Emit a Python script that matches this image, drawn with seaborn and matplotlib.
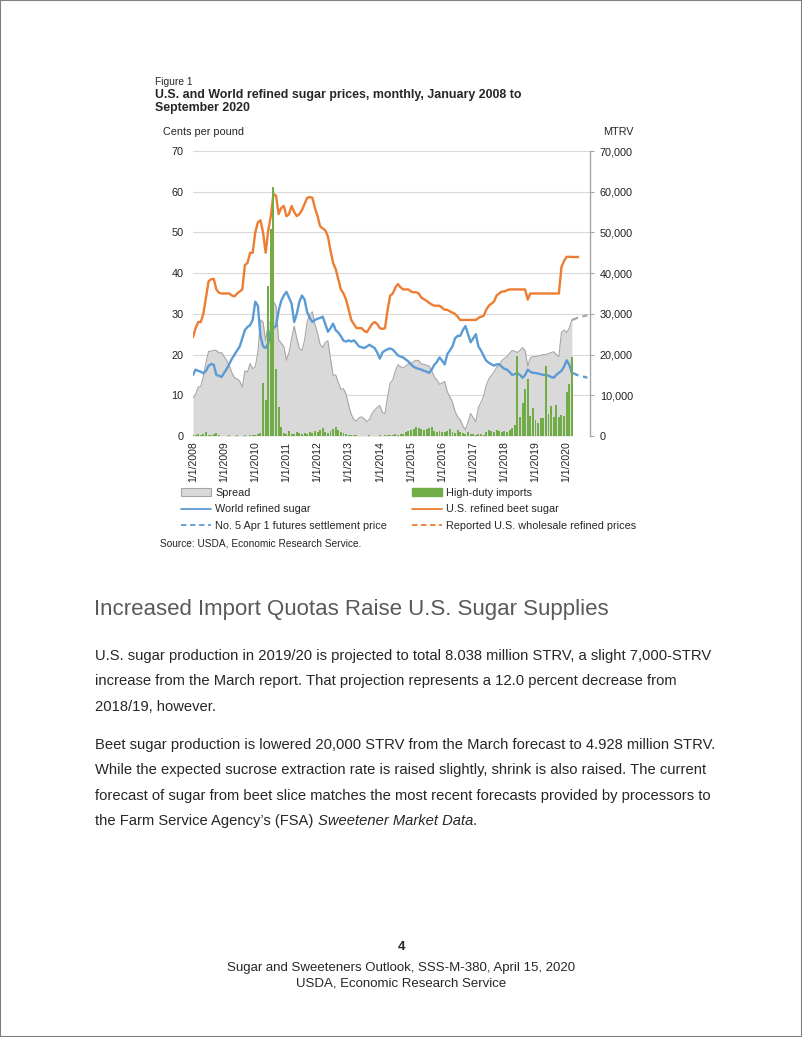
import numpy as np
import pandas as pd
import matplotlib
matplotlib.use("Agg")
import matplotlib.pyplot as plt
import seaborn as sns
from matplotlib.patches import Patch, Rectangle
from matplotlib.lines import Line2D
from matplotlib.ticker import FuncFormatter

# monthly data, Jan 2008 .. Mar 2020 (cents per pound)
beet_sugar = [
    24.3, 26.5, 28.0, 28.0, 30.0, 34.0, 38.0, 38.5, 38.6, 36.0, 35.2, 35.0,
    35.0, 35.0, 35.0, 34.5, 34.3, 35.0, 35.5, 36.0, 42.0, 42.5, 45.0, 45.0,
    50.0, 52.5, 53.0, 50.0, 45.0, 50.5, 54.0, 59.5, 59.0, 54.5, 56.0, 56.5,
    54.0, 54.5, 56.5, 55.0, 54.0, 54.5, 55.5, 57.0, 58.5, 58.7, 58.5, 56.0,
    54.0, 51.5, 51.0, 50.5, 49.0, 45.5, 42.5, 41.0, 38.5, 36.0, 35.0, 33.5,
    31.0, 28.5, 27.5, 26.5, 26.5, 26.5, 25.8, 25.5, 26.5, 27.5, 28.0, 27.5,
    26.5, 26.3, 26.5, 31.0, 34.5, 35.0, 36.5, 37.3, 36.5, 36.0, 36.0, 36.0,
    35.5, 35.3, 35.3, 35.0, 34.0, 33.6, 33.2, 32.7, 32.3, 32.0, 32.0, 32.0,
    31.5, 31.0, 31.0, 30.6, 30.3, 30.0, 29.3, 28.5, 28.5, 28.5, 28.5, 28.5,
    28.5, 28.5, 29.0, 29.3, 29.5, 31.0, 32.0, 32.5, 33.0, 34.5, 35.0, 35.5,
    35.5, 35.8, 36.0, 36.0, 36.0, 36.0, 36.0, 36.0, 36.0, 33.5, 35.0, 35.0,
    35.0, 35.0, 35.0, 35.0, 35.0, 35.0, 35.0, 35.0, 35.0, 35.0, 41.5, 43.0,
    44.0, 44.0, 44.0,
]
world_sugar = [
    15.0, 16.3, 16.0, 15.8, 15.4, 16.0, 17.2, 17.7, 17.5, 15.0, 14.8, 14.5,
    15.5, 16.5, 17.7, 19.0, 20.0, 21.0, 22.0, 24.0, 26.0, 26.8, 27.2, 28.5,
    33.0, 32.0, 24.5, 22.0, 21.6, 22.8, 26.0, 26.5, 27.0, 30.8, 33.2, 34.5,
    35.4, 34.0, 32.5, 28.0, 30.0, 33.0, 34.5, 33.5, 30.4, 29.0, 28.0, 28.5,
    28.8, 29.0, 29.3, 27.5, 25.6, 26.5, 27.6, 26.0, 25.4, 24.5, 23.4, 23.2,
    23.5, 23.2, 23.5, 22.8, 22.0, 21.8, 21.6, 22.0, 22.4, 22.0, 21.6, 20.5,
    19.0, 20.5, 21.0, 21.3, 21.5, 21.2, 20.5, 19.8, 19.5, 19.3, 18.8, 18.3,
    17.6, 17.0, 16.7, 16.5, 16.3, 16.0, 15.8, 15.5, 16.3, 17.5, 18.2, 19.3,
    18.5, 17.6, 20.1, 21.0, 22.0, 24.0, 24.6, 24.6, 26.0, 27.0, 25.0, 23.0,
    24.0, 25.0, 22.0, 21.0, 19.7, 18.5, 18.0, 17.6, 17.3, 17.6, 17.6, 17.0,
    16.5, 16.3, 15.7, 15.0, 15.2, 15.5, 15.0, 14.3, 15.0, 16.3, 15.8, 15.5,
    15.5, 15.3, 15.2, 15.0, 15.0, 14.8, 14.5, 14.3, 15.0, 15.5, 16.0, 17.0,
    18.6, 17.5, 15.5,
]
spread = [
    9.3, 10.2, 12.0, 12.2, 14.6, 18.0, 20.8, 20.8, 21.1, 21.0, 20.4, 20.5,
    19.5, 18.5, 17.3, 15.5, 14.3, 14.0, 13.5, 12.0, 16.0, 15.7, 17.8, 16.5,
    17.0, 20.5, 28.5, 28.0, 23.4, 27.7, 28.0, 33.0, 32.0, 23.7, 22.8, 22.0,
    18.6, 20.5, 24.0, 27.0, 24.0, 21.5, 21.0, 23.5, 28.1, 29.7, 30.5, 27.5,
    25.2, 22.5, 21.7, 23.0, 23.4, 19.0, 14.9, 15.0, 13.1, 11.5, 11.6, 10.3,
    7.5, 5.3, 4.0, 3.7, 4.5, 4.7, 4.2, 3.5, 4.1, 5.5, 6.4, 7.0,
    7.5, 5.8, 5.5, 9.7, 13.0, 13.8, 16.0, 17.5, 17.0, 16.7, 17.2, 17.7,
    17.9, 18.3, 18.6, 18.5, 17.7, 17.6, 17.4, 17.2, 16.0, 14.5, 13.8, 12.7,
    13.0, 13.4, 10.9, 9.6, 8.3, 6.0, 4.7, 3.9, 2.5, 1.5, 3.5, 5.5,
    4.5, 3.5, 7.0, 8.3, 9.8, 12.5, 14.0, 14.9, 15.7, 16.9, 17.4, 18.5,
    19.0, 19.5, 20.3, 21.0, 20.8, 20.5, 21.0, 21.7, 21.0, 17.2, 19.2, 19.5,
    19.5, 19.7, 19.8, 20.0, 20.0, 20.2, 20.5, 20.7, 20.0, 19.5, 25.5, 26.0,
    25.4, 26.5, 28.5,
]
# high-duty imports, MTRV
high_duty_imports = [
    300, 200, 400, 300, 600, 1000, 300, 200, 600, 800, 200, 100,
    100, 100, 200, 100, 100, 200, 100, 100, 200, 100, 200, 300,
    300, 500, 700, 13100, 8800, 36800, 50800, 61200, 16400, 7200, 2200, 800,
    500, 1200, 600, 400, 1000, 700, 500, 800, 600, 900, 700, 1200,
    1000, 1500, 2000, 1100, 800, 1300, 1700, 2300, 1400, 1000, 700, 400,
    300, 200, 300, 200, 100, 100, 100, 100, 200, 100, 100, 100,
    200, 100, 200, 300, 200, 300, 400, 300, 500, 600, 900, 1200,
    1500, 1800, 2200, 2000, 1700, 1400, 1600, 1900, 2200, 1300, 1000, 1200,
    900, 1100, 1300, 1800, 1000, 800, 1400, 1100, 700, 500, 900, 600,
    400, 300, 500, 400, 300, 900, 1500, 1300, 1100, 1400, 1200, 1000,
    1300, 1100, 1500, 2000, 2600, 19700, 4600, 8000, 11600, 14000, 5000, 6800,
    3900, 3100, 4300, 4300, 17300, 5500, 7400, 4700, 7600, 4700, 5100, 4900,
    10900, 12800, 19500,
]
# projections, Mar 2020 onward
futures_proj = [15.5, 15.3, 15.0, 14.8, 14.6, 14.5, 14.3]
wholesale_proj = [44.0, 44.0, 44.0, 44.0, 44.0]
spread_proj = [28.5, 28.7, 29.0, 29.2, 29.4, 29.5, 29.7]
proj_start = 146

year_labels = ["1/1/%d" % y for y in range(2008, 2021)]

para1 = [
    "U.S. sugar production in 2019/20 is projected to total 8.038 million STRV, a slight 7,000-STRV",
    "increase from the March report. That projection represents a 12.0 percent decrease from",
    "2018/19, however.",
]
para2 = [
    "Beet sugar production is lowered 20,000 STRV from the March forecast to 4.928 million STRV.",
    "While the expected sucrose extraction rate is raised slightly, shrink is also raised. The current",
    "forecast of sugar from beet slice matches the most recent forecasts provided by processors to",
]

BLUE = "#5b9bd5"
ORANGE = "#ed7d31"
GREEN = "#70ad47"
GRAY = "#d9d9d9"
GRAY_EDGE = "#a6a6a6"

sns.set_theme(style="white")
plt.rcParams["font.family"] = ["Liberation Sans", "DejaVu Sans"]

W, H = 802, 1037
fig = plt.figure(figsize=(W / 100, H / 100), dpi=100)
fig.patch.set_facecolor("white")

def fx(x):
    return x / W

def fy(y):
    return 1 - y / H

months = np.arange(len(beet_sugar))
df = pd.DataFrame({"month": months, "beet": beet_sugar, "world": world_sugar,
                   "spread": spread, "imports": high_duty_imports})

ax = fig.add_axes([fx(193), fy(436), fx(590) - fx(193), fy(151) - fy(436)])
ax2 = ax.twinx()

# spread area
ax.fill_between(df["month"], df["spread"], color=GRAY, lw=0, zorder=1)
sns.lineplot(data=df, x="month", y="spread", ax=ax, color=GRAY_EDGE, lw=0.8, zorder=2)
sns.lineplot(x=np.arange(proj_start, proj_start + len(spread_proj)), y=spread_proj, ax=ax,
             color=GRAY_EDGE, lw=1.6, linestyle=(0, (3, 2)), zorder=3)

sns.lineplot(data=df, x="month", y="world", ax=ax, color=BLUE, lw=1.7, zorder=4)
sns.lineplot(data=df, x="month", y="beet", ax=ax, color=ORANGE, lw=1.7, zorder=4)
sns.lineplot(x=np.arange(proj_start, proj_start + len(futures_proj)), y=futures_proj, ax=ax,
             color=BLUE, lw=1.7, linestyle=(0, (3, 2)), zorder=4)
sns.lineplot(x=np.arange(proj_start, proj_start + len(wholesale_proj)), y=wholesale_proj, ax=ax,
             color=ORANGE, lw=1.7, linestyle=(0, (3, 2)), zorder=4)

# high-duty imports on the secondary axis
sns.barplot(data=df, x="month", y="imports", ax=ax2, native_scale=True, color=GREEN,
            saturation=1, width=0.75, errorbar=None, linewidth=0)

ax.set_xlim(0, 153)
ax.set_ylim(0, 70)
ax2.set_ylim(0, 70000)
ax.set_xticks(range(0, 145, 12))
ax.set_xticklabels(year_labels, rotation=90)
ax.set_yticks(range(0, 71, 10))
ax2.set_yticks(range(0, 70001, 10000))
ax2.yaxis.set_major_formatter(FuncFormatter(lambda v, p: "{:,.0f}".format(v)))
ax.set_xlabel("")
ax.set_ylabel("")
ax2.set_ylabel("")

ax.set_axisbelow(True)
ax.yaxis.grid(True, color=GRAY, lw=0.8)
ax.xaxis.grid(False)
for s in ax.spines.values():
    s.set_visible(False)
for k, s in ax2.spines.items():
    s.set_visible(k == "right")
ax2.spines["right"].set_color(GRAY_EDGE)
ax2.spines["right"].set_linewidth(1.0)

ax.tick_params(axis="y", length=0, pad=7, labelsize=7.8, labelcolor="#222222")
ax.tick_params(axis="x", length=0, pad=4, labelsize=7.6, labelcolor="#222222")
ax2.tick_params(axis="y", length=3, width=0.8, color=GRAY_EDGE, pad=4, labelsize=7.8,
                labelcolor="#222222")

# titles around the chart
fig.text(fx(155), fy(82), "Figure 1", fontsize=7.4, va="center", ha="left")
fig.text(fx(155), fy(95), "U.S. and World refined sugar prices, monthly, January 2008 to",
         fontsize=8.9, fontweight="bold", va="center", ha="left")
fig.text(fx(155), fy(108), "September 2020", fontsize=8.9, fontweight="bold", va="center", ha="left")
fig.text(fx(163), fy(132), "Cents per pound", fontsize=7.8, va="center", ha="left")
fig.text(fx(634), fy(132), "MTRV", fontsize=7.8, va="center", ha="right")

handles = [
    Patch(facecolor=GRAY, edgecolor=GRAY_EDGE, lw=0.8),
    Line2D([], [], color=BLUE, lw=1.3),
    Line2D([], [], color=BLUE, lw=1.3, linestyle=(0, (3, 2))),
    Patch(facecolor=GREEN, edgecolor=GREEN),
    Line2D([], [], color=ORANGE, lw=1.3),
    Line2D([], [], color=ORANGE, lw=1.3, linestyle=(0, (3, 2))),
]
labels = ["Spread", "World refined sugar", "No. 5 Apr 1 futures settlement price",
          "High-duty imports", "U.S. refined beet sugar", "Reported U.S. wholesale refined prices"]
fig.legend(handles, labels, ncol=2, loc="upper left", bbox_to_anchor=(fx(181), fy(488)),
           frameon=False, fontsize=7.8, handlelength=2.8, handletextpad=0.35,
           columnspacing=2.3, labelspacing=0.6, borderpad=0, borderaxespad=0)

fig.text(fx(160), fy(544), "Source: USDA, Economic Research Service.", fontsize=7.3,
         va="center", ha="left")

# page text
fig.text(fx(94), fy(609), "Increased Import Quotas Raise U.S. Sugar Supplies", fontsize=16,
         color="#595959", va="center", ha="left")
for i, line in enumerate(para1):
    fig.text(fx(95), fy(656 + 25.5 * i), line, fontsize=10.6, va="center", ha="left")
for i, line in enumerate(para2):
    fig.text(fx(95), fy(745 + 25.3 * i), line, fontsize=10.6, va="center", ha="left")

last_y = fy(745 + 25.3 * 3)
t1 = fig.text(fx(95), last_y, "the Farm Service Agency\u2019s (FSA) ", fontsize=10.6,
              va="center", ha="left")
fig.canvas.draw()
x1 = t1.get_window_extent().x1 / fig.bbox.width
t2 = fig.text(x1, last_y, "Sweetener Market Data", fontsize=10.6, style="italic",
              va="center", ha="left")
fig.canvas.draw()
x2 = t2.get_window_extent().x1 / fig.bbox.width
fig.text(x2, last_y, ".", fontsize=10.6, va="center", ha="left")

fig.text(0.5, fy(947), "4", fontsize=9.5, fontweight="bold", va="center", ha="center")
fig.text(0.5, fy(968), "Sugar and Sweeteners Outlook, SSS-M-380, April 15, 2020", fontsize=9.5,
         va="center", ha="center")
fig.text(0.5, fy(983), "USDA, Economic Research Service", fontsize=9.5, va="center", ha="center")

fig.add_artist(Rectangle((0, 0), 1, 1, transform=fig.transFigure, fill=False,
                         edgecolor="#7f7f7f", lw=1.5))

fig.savefig("out.png", dpi=100)
